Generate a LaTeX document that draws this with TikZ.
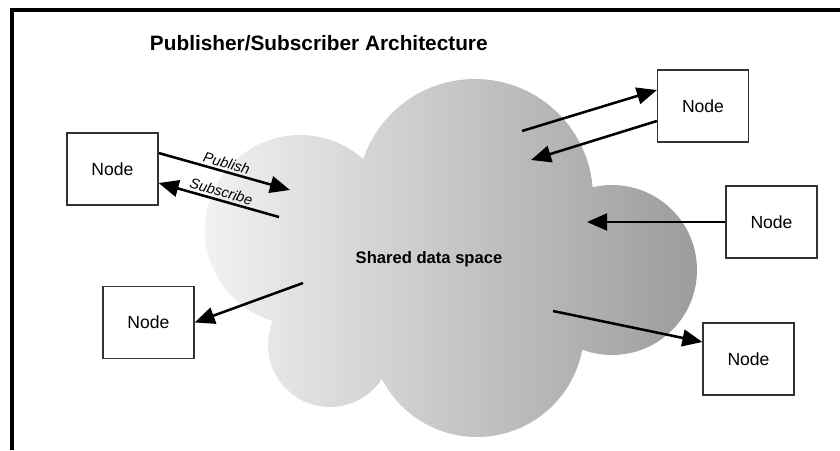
\documentclass[tikz,border=0pt]{standalone}
\usepackage{fontspec}
\setmainfont{Liberation Sans}
\usetikzlibrary{arrows.meta,calc}

\begin{document}
\begin{tikzpicture}[x=0.025cm,y=-0.025cm,
  nodebox/.style={draw=black!80,line width=0.9pt,fill=white,minimum width=2.275cm,minimum height=1.8cm,font=\fontsize{12.5}{15}\selectfont},
  link/.style={line width=1.8pt,-{Triangle[length=0.5cm,width=0.42cm]}},
  tag/.style={font=\itshape\fontsize{10.3}{12}\selectfont,midway,sloped,above,inner sep=1.5pt}]
\useasboundingbox (0,0) rectangle (840,450);

% Draw frame.
\draw[line width=2.2pt] (12,450) -- (12,10) -- (840,10);

% Draw title.
\node (title) at (145,43) [anchor=west,font=\bfseries\fontsize{14.8}{17}\selectfont]{Publisher/Subscriber Architecture};

% Draw cloud as union of lobes, shaded left to right.
\begin{scope}
\clip (300,230) circle [radius=95] (475,197) circle [radius=118] (612,270) circle [radius=85]
      (477,330) circle [radius=107] (330,345) circle [radius=62] (400,290) circle [radius=75];
\shade[left color=gray!10,right color=gray!78] (200,70) rectangle (700,440);
\end{scope}
\node (space) at (429,259) [font=\bfseries\fontsize{11.8}{14}\selectfont]{Shared data space};

% Draw nodes.
\node[nodebox] (n1) at (112.5,169) {Node};
\node[nodebox] (n2) at (703,106) {Node};
\node[nodebox] (n3) at (771.5,222) {Node};
\node[nodebox] (n4) at (148.5,322.5) {Node};
\node[nodebox] (n5) at (748.5,359) {Node};

% Points inside the data space.
\coordinate (pub) at (290,190);
\coordinate (sub) at (279,217);
\coordinate (out2) at (522,131);
\coordinate (in2) at (531,160);
\coordinate (in3) at (587,222);
\coordinate (out4) at (303,283);
\coordinate (out5) at (553,311);

% Draw connectors.
\draw[link] ($(n1.east)+(0,-16)$) -- (pub) node[tag]{Publish};
\draw[link] (sub) -- ($(n1.east)+(0,14)$) node[tag]{Subscribe};
\draw[link] (out2) -- ($(n2.west)+(0,-16)$);
\draw[link] ($(n2.west)+(0,15)$) -- (in2);
\draw[link] (n3.west) -- (in3);
\draw[link] (out4) -- (n4.east);
\draw[link] (out5) -- ($(n5.west)+(0,-17)$);
\end{tikzpicture}
\end{document}
